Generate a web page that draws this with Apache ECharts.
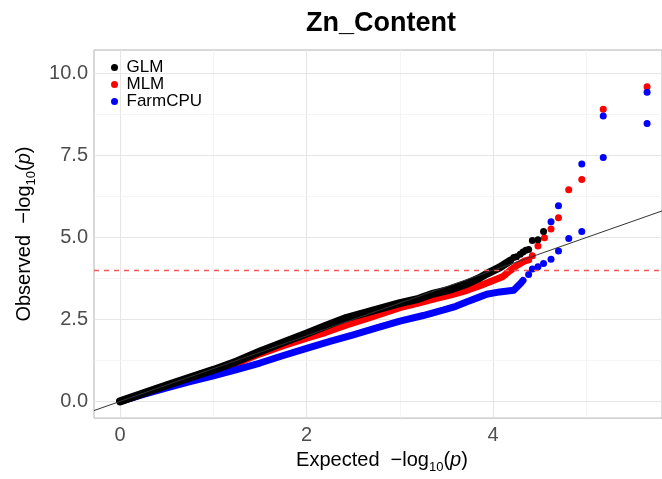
<!DOCTYPE html>
<html>
<head>
<meta charset="utf-8">
<script src="https://cdn.jsdelivr.net/npm/echarts@6/dist/echarts.min.js"></script>
<style>
  html, body { margin: 0; padding: 0; background: #fff; }
  #main { width: 662px; height: 479px; }
</style>
</head>
<body>
<div id="main"></div>
<script>
// dense part of each QQ curve (expected, observed)
var glmBandX = [0, 0.25, 0.5, 0.75, 1.0, 1.25, 1.5, 1.75, 2.0, 2.2, 2.43, 2.7, 3.0, 3.2, 3.36, 3.55, 3.72, 3.85, 3.93, 4.07, 4.18]
var glmBandY = [0, 0.25, 0.49, 0.73, 0.96, 1.22, 1.52, 1.8, 2.07, 2.3, 2.55, 2.76, 3.0, 3.13, 3.29, 3.42, 3.59, 3.76, 3.89, 4.09, 4.29]
var mlmBandX = [0, 0.25, 0.5, 0.75, 1.0, 1.25, 1.5, 1.75, 2.0, 2.2, 2.43, 2.7, 3.0, 3.2, 3.36, 3.55, 3.72, 3.85, 4.0, 4.1, 4.18, 4.25, 4.34, 4.38]
var mlmBandY = [0, 0.23, 0.45, 0.67, 0.9, 1.16, 1.45, 1.7, 1.93, 2.1, 2.33, 2.58, 2.86, 3.0, 3.12, 3.25, 3.39, 3.52, 3.69, 3.8, 3.99, 4.14, 4.29, 4.32]
var farmBandX = [0, 0.25, 0.5, 0.75, 1.0, 1.25, 1.5, 1.75, 2.0, 2.25, 2.5, 2.75, 3.0, 3.25, 3.47, 3.6, 3.72, 3.85, 3.93, 4.07, 4.22, 4.29, 4.32]
var farmBandY = [0, 0.21, 0.41, 0.6, 0.78, 0.97, 1.17, 1.4, 1.62, 1.83, 2.03, 2.24, 2.45, 2.62, 2.79, 2.9, 3.04, 3.18, 3.27, 3.34, 3.39, 3.59, 3.69]

// separate points in the upper tail
var glmTailX = [4.22, 4.25, 4.29, 4.32, 4.35, 4.38, 4.42, 4.48, 4.54]
var glmTailY = [4.39, 4.41, 4.49, 4.56, 4.61, 4.63, 4.91, 4.93, 5.18]
var mlmTailX = [4.42, 4.48, 4.55, 4.62, 4.70, 4.81, 4.95, 5.18, 5.65]
var mlmTailY = [4.44, 4.74, 4.99, 5.26, 5.60, 6.46, 6.77, 8.91, 9.60]
var farmTailX = [4.38, 4.42, 4.48, 4.54, 4.62, 4.70, 4.81, 4.95, 4.62, 4.70, 4.95, 5.18, 5.18, 5.65, 5.65]
var farmTailY = [3.87, 4.04, 4.11, 4.21, 4.34, 4.59, 4.97, 5.18, 5.48, 5.97, 7.24, 7.44, 8.71, 9.43, 8.48]

var threshold = 4
var xMajor = [0, 2, 4]
var xMinor = [1, 3, 5]
var yMajor = [0, 2.5, 5, 7.5, 10]
var yMinor = [1.25, 3.75, 6.25, 8.75]
var xMin = -0.28, xMax = 5.81, yMin = -0.51, yMax = 10.72

var font = 'Liberation Sans'

function pairs(xs, ys){
    var out = []
    for (var i = 0; i < xs.length; i++) out.push([xs[i], ys[i]])
    return out
}

function gridLines(){
    var lines = []
    var major = {color: '#e6e6e6', width: 1.1, type: 'solid'}
    var minor = {color: '#f1f1f1', width: 0.7, type: 'solid'}
    xMajor.forEach(function(v){ lines.push({xAxis: v, lineStyle: major}) })
    xMinor.forEach(function(v){ lines.push({xAxis: v, lineStyle: minor}) })
    yMajor.forEach(function(v){ lines.push({yAxis: v, lineStyle: major}) })
    yMinor.forEach(function(v){ lines.push({yAxis: v, lineStyle: minor}) })
    return lines
}

function band(name, color, xs, ys, width, z){
    return {
        name: name, type: 'line', data: pairs(xs, ys), showSymbol: false, z: z,
        lineStyle: {color: color, width: width, cap: 'round', join: 'round'},
        itemStyle: {color: color}
    }
}
function tail(name, color, xs, ys, z){
    return {
        name: name, type: 'scatter', data: pairs(xs, ys), symbolSize: 7, z: z,
        itemStyle: {color: color, opacity: 1}
    }
}

var nameRich = {
    t: {fontSize: 20, fontFamily: font, color: '#000', lineHeight: 28, verticalAlign: 'middle'},
    s: {fontSize: 13, fontFamily: font, color: '#000', lineHeight: 13, verticalAlign: 'bottom'},
    i: {fontSize: 20, fontFamily: font, color: '#000', fontStyle: 'italic', lineHeight: 28, verticalAlign: 'middle'}
}

var myChart = echarts.init(document.getElementById('main'), null, {renderer: 'canvas'})

var option = {
    animation: false,
    backgroundColor: '#fff',
    graphic: [{
        type: 'text', x: 381, y: 10, z: 10,
        style: {text: 'Zn_Content', font: 'bold 27px "Liberation Sans"', fill: '#000', textAlign: 'center'}
    }],
    grid: {left: 94, right: 0, top: 50, bottom: 56, show: true, borderColor: '#b3b3b3', borderWidth: 1, backgroundColor: '#fff'},
    legend: {
        orient: 'vertical', left: 111, top: 59, padding: 0, itemGap: 0,
        itemWidth: 14, itemHeight: 7,
        textStyle: {fontSize: 17, fontFamily: font, color: '#000', lineHeight: 16.5},
        data: [{name: 'GLM', icon: 'circle'}, {name: 'MLM', icon: 'circle'}, {name: 'FarmCPU', icon: 'circle'}]
    },
    xAxis: {
        type: 'value', min: xMin, max: xMax,
        name: '{t|Expected  \u2212log}{s|10}{t|(}{i|p}{t|)}',
        nameLocation: 'middle', nameGap: 24,
        nameTextStyle: {rich: nameRich, padding: [0, 0, 0, 8]},
        axisLine: {show: false},
        axisTick: {show: true, customValues: xMajor, length: 4, lineStyle: {color: '#555'}},
        axisLabel: {customValues: xMajor, fontSize: 20, fontFamily: font, color: '#4d4d4d', margin: 7,
            formatter: function(v){ return String(v) }},
        splitLine: {show: false}
    },
    yAxis: {
        type: 'value', min: yMin, max: yMax,
        name: '{t|Observed  \u2212log}{s|10}{t|(}{i|p}{t|)}',
        nameLocation: 'middle', nameGap: 50,
        nameTextStyle: {rich: nameRich},
        axisLine: {show: false},
        axisTick: {show: true, customValues: yMajor, length: 4, lineStyle: {color: '#555'}},
        axisLabel: {customValues: yMajor, fontSize: 20, fontFamily: font, color: '#4d4d4d', margin: 6,
            formatter: function(v){ return v.toFixed(1) }},
        splitLine: {show: false}
    },
    series: [
        {
            name: 'grid', type: 'line', data: [[xMin, yMin], [xMax, yMin]], showSymbol: false, z: 1,
            lineStyle: {width: 0, opacity: 0}, silent: true,
            markLine: {silent: true, z: 1, symbol: 'none', label: {show: false}, data: gridLines()}
        },
        band('MLM', '#ff0000', mlmBandX, mlmBandY, 7, 2),
        tail('MLM', '#ff0000', mlmTailX, mlmTailY, 2),
        band('FarmCPU', '#0000ff', farmBandX, farmBandY, 7, 3),
        tail('FarmCPU', '#0000ff', farmTailX, farmTailY, 3),
        band('GLM', '#000000', glmBandX, glmBandY, 8, 4),
        tail('GLM', '#000000', glmTailX, glmTailY, 4),
        {
            name: 'diag', type: 'line', data: [[xMin, xMin], [xMax, xMax]], showSymbol: false, z: 6,
            lineStyle: {color: '#333', width: 1}, silent: true,
            markLine: {silent: true, z: 6, symbol: 'none', label: {show: false},
                lineStyle: {color: '#f05a5a', type: [5, 5], width: 1.3},
                data: [{yAxis: threshold}]}
        }
    ]
}

myChart.setOption(option)
</script>
</body>
</html>
